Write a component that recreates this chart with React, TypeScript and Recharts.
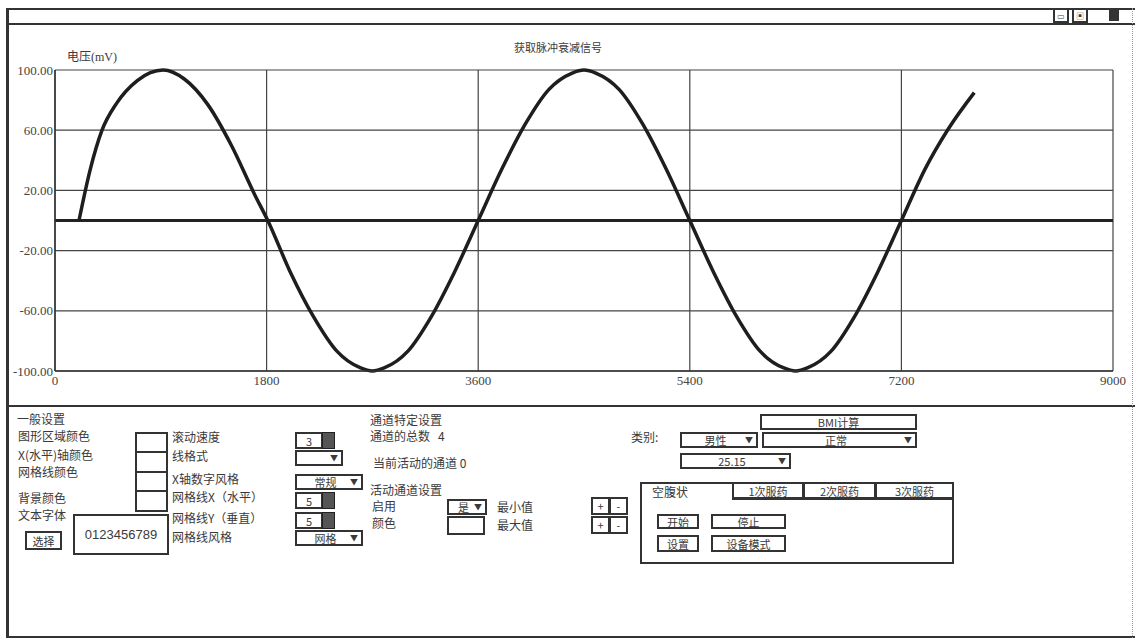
import React from 'react';
import { LineChart, Line, XAxis, YAxis, CartesianGrid, ReferenceLine } from 'recharts';

// sample positions (x axis units) and voltage
const sampleTimes = [
  204, 300, 400, 525, 700, 920, 1100, 1300, 1500, 1700, 1810, 2000, 2200, 2400, 2600, 2700, 2800,
  3000, 3200, 3400, 3600, 3800, 4000, 4200, 4400, 4500, 4600, 4800, 5000, 5200, 5400, 5600, 5800,
  6000, 6200, 6300, 6400, 6600, 6800, 7000, 7200, 7400, 7600, 7820,
];
const voltages = [
  0, 34, 60, 78, 93, 100, 94, 77, 50, 17, 0, -34, -64, -87, -98, -100, -98,
  -87, -64, -34, 0, 34, 64, 87, 98, 100, 98, 87, 64, 34, 0, -34, -64,
  -87, -98, -100, -98, -87, -64, -34, 0, 34, 61, 85,
];
const xTicks = [0, 1800, 3600, 5400, 7200, 9000];
const yTicks = [-100, -60, -20, 20, 60, 100];

const chartTitle = '获取脉冲衰减信号';
const yLabel = '电压(mV)';

const data = sampleTimes.map((t, i) => ({ t, v: voltages[i] }));

const cjk = '"Noto Sans CJK SC", "Noto Sans", sans-serif';
const ink = '#3a3a3a';

const Txt = ({ x, y, children, size = 12 }: any) => (
  <div style={{ position: 'absolute', left: x, top: y, fontSize: size, color: ink, fontFamily: cjk, whiteSpace: 'nowrap', lineHeight: '14px' }}>
    {children}
  </div>
);

const Box = ({ x, y, w, h, children, bw = 2, center = true }: any) => (
  <div
    style={{
      position: 'absolute', left: x, top: y, width: w, height: h, boxSizing: 'border-box',
      border: `${bw}px solid #333`, fontSize: 11, color: ink, fontFamily: cjk,
      display: 'flex', alignItems: 'center', justifyContent: center ? 'center' : 'flex-start',
      paddingLeft: center ? 0 : 4, background: '#fff', lineHeight: '12px',
    }}
  >
    {children}
  </div>
);

const Drop = ({ x, y, w, h = 16, text = '' }: any) => (
  <Box x={x} y={y} w={w} h={h} center={false}>
    <span style={{ flex: 1, textAlign: 'center' }}>{text}</span>
    <span style={{ fontSize: 8, marginRight: 3 }}>▼</span>
  </Box>
);

const Spin = ({ x, y, text }: any) => (
  <div style={{ position: 'absolute', left: x, top: y, width: 40, height: 17 }}>
    <Box x={0} y={0} w={28} h={17}>{text}</Box>
    <div style={{ position: 'absolute', left: 27, top: 0, width: 13, height: 17, background: '#555', border: '1px solid #222', boxSizing: 'border-box' }} />
  </div>
);

const HLine = ({ x, y, w, t = 2 }: any) => (
  <div style={{ position: 'absolute', left: x, top: y, width: w, height: 0, borderTop: `${t}px solid #333` }} />
);
const VLine = ({ x, y, h, t = 2 }: any) => (
  <div style={{ position: 'absolute', left: x, top: y, width: 0, height: h, borderLeft: `${t}px solid #333` }} />
);

const tickStyle = { fontSize: 13, fill: '#444', fontFamily: '"Liberation Serif", serif' };

export default function App() {
  return (
    <div style={{ position: 'fixed', left: 0, top: 0, width: 1135, height: 641, background: '#fff', overflow: 'hidden' }}>
      <div style={{ position: 'absolute', left: 0, top: 0 }}>
        <LineChart width={1135} height={400} data={data} margin={{ top: 70, right: 22, bottom: 9, left: 0 }}>
          <CartesianGrid stroke="#444" strokeWidth={1.2} />
          <XAxis
            type="number"
            dataKey="t"
            domain={[0, 9000]}
            ticks={xTicks}
            height={20}
            tickSize={0}
            tickMargin={5}
            axisLine={{ stroke: '#333', strokeWidth: 1.5 }}
            tick={tickStyle}
          />
          <YAxis
            type="number"
            domain={[-100, 100]}
            ticks={yTicks}
            width={55}
            tickSize={0}
            tickMargin={2}
            tickFormatter={(v: number) => v.toFixed(2)}
            axisLine={{ stroke: '#333', strokeWidth: 1.5 }}
            tick={tickStyle}
          />
          <ReferenceLine y={0} stroke="#222" strokeWidth={3} />
          <Line type="monotone" dataKey="v" stroke="#1e1e1e" strokeWidth={3.5} dot={false} isAnimationActive={false} />
        </LineChart>
      </div>

      {/* chart texts */}
      <Txt x={514} y={40} size={11}>{chartTitle}</Txt>
      <div style={{ position: 'absolute', left: 67, top: 47, fontSize: 12, color: ink, fontFamily: '"Liberation Serif", "Noto Sans CJK SC", serif' }}>{yLabel}</div>

      {/* window frame */}
      <HLine x={7} y={8} w={1128} />
      <HLine x={7} y={23} w={1128} />
      <VLine x={6} y={8} h={630} t={3} />
      <HLine x={7} y={405} w={1128} />
      <HLine x={7} y={636} w={1128} />
      <div style={{ position: 'absolute', left: 1132, top: 8, width: 0, height: 630, borderLeft: '1px dotted #999' }} />
      <Box x={1053} y={8} w={16} h={15} bw={2}><span style={{ fontSize: 8 }}>▭</span></Box>
      <Box x={1072} y={8} w={16} h={15} bw={2}><span style={{ fontSize: 8 }}>▣</span></Box>
      <div style={{ position: 'absolute', left: 1109, top: 10, width: 10, height: 11, background: '#333' }} />

      {/* general settings */}
      <Txt x={17} y={412}>一般设置</Txt>
      <Txt x={18} y={429}>图形区域颜色</Txt>
      <Txt x={18} y={448}>X(水平)轴颜色</Txt>
      <Txt x={18} y={465}>网格线颜色</Txt>
      <Txt x={18} y={491}>背景颜色</Txt>
      <Txt x={18} y={508}>文本字体</Txt>
      <Box x={135} y={432} w={33} h={21} />
      <Box x={135} y={451} w={33} h={22} />
      <Box x={135} y={471} w={33} h={21} />
      <Box x={135} y={490} w={33} h={22} />
      <Box x={73} y={514} w={96} h={41}>
        <span style={{ fontFamily: '"Liberation Sans", sans-serif', fontSize: 13 }}>0123456789</span>
      </Box>
      <Box x={25} y={531} w={37} h={19}>选择</Box>

      <Txt x={172} y={430}>滚动速度</Txt>
      <Txt x={172} y={449}>线格式</Txt>
      <Txt x={172} y={472}>X轴数字风格</Txt>
      <Txt x={172} y={490}>网格线X（水平）</Txt>
      <Txt x={172} y={511}>网格线Y（垂直）</Txt>
      <Txt x={172} y={530}>网格线风格</Txt>
      <Spin x={295} y={432} text="3" />
      <Drop x={295} y={450} w={48} />
      <Drop x={295} y={474} w={68} text="常规" />
      <Spin x={295} y={492} text="5" />
      <Spin x={295} y={512} text="5" />
      <Drop x={295} y={530} w={68} text="网格" />

      {/* channel settings */}
      <Txt x={370} y={413}>通道特定设置</Txt>
      <Txt x={370} y={429}>通道的总数&nbsp;&nbsp;&nbsp;4</Txt>
      <Txt x={373} y={456}>当前活动的通道 0</Txt>
      <Txt x={370} y={483}>活动通道设置</Txt>
      <Txt x={372} y={499}>启用</Txt>
      <Txt x={372} y={516}>颜色</Txt>
      <Drop x={447} y={499} w={40} text="是" />
      <Box x={447} y={516} w={38} h={19} />
      <Txt x={497} y={500}>最小值</Txt>
      <Txt x={497} y={518}>最大值</Txt>
      <Box x={591} y={497} w={19} h={18}>+</Box>
      <Box x={609} y={497} w={19} h={18}>-</Box>
      <Box x={591} y={516} w={19} h={18}>+</Box>
      <Box x={609} y={516} w={19} h={18}>-</Box>

      {/* BMI */}
      <Box x={760} y={414} w={157} h={16}>BMI计算</Box>
      <Txt x={631} y={430}>类别:</Txt>
      <Drop x={680} y={432} w={78} h={16} text="男性" />
      <Drop x={762} y={432} w={155} h={16} text="正常" />
      <Drop x={680} y={453} w={111} h={16} text="25.15" />

      <div style={{ position: 'absolute', left: 640, top: 482, width: 314, height: 82, boxSizing: 'border-box', border: '2px solid #333' }} />
      <Txt x={652} y={485}>空腹状</Txt>
      <Box x={732} y={482} w={72} h={17}>1次服药</Box>
      <Box x={803} y={482} w={73} h={17}>2次服药</Box>
      <Box x={875} y={482} w={79} h={17}>3次服药</Box>
      <HLine x={732} y={498} w={222} />
      <Box x={657} y={514} w={42} h={15}>开始</Box>
      <Box x={711} y={514} w={75} h={15}>停止</Box>
      <Box x={657} y={535} w={42} h={17}>设置</Box>
      <Box x={711} y={535} w={75} h={17}>设备模式</Box>
    </div>
  );
}
